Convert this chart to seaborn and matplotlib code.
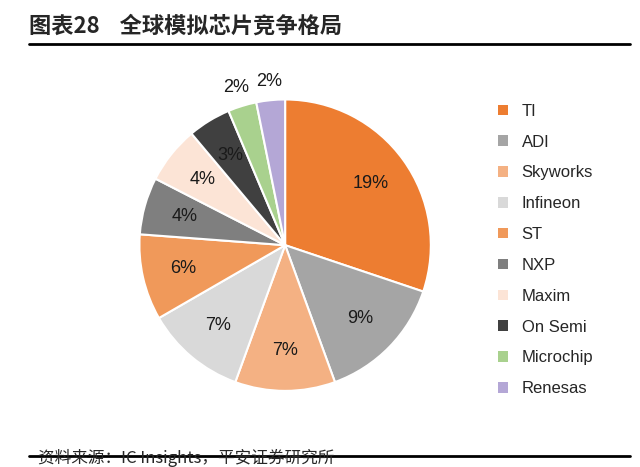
import matplotlib.pyplot as plt
import seaborn as sns
import numpy as np
from matplotlib.patches import Patch

companies = ["TI", "ADI", "Skyworks", "Infineon", "ST", "NXP", "Maxim", "On Semi", "Microchip", "Renesas"]
shares = [19, 9, 7, 7, 6, 4, 4, 3, 2, 2]
colors = ["#ED7D31", "#A5A5A5", "#F4B183", "#D9D9D9", "#F0995A", "#7F7F7F",
          "#FCE4D6", "#404040", "#A9D18E", "#B4A7D6"]

sns.set_theme(style="white")
plt.rcParams['font.family'] = ['Liberation Sans', 'Noto Sans CJK SC', 'DejaVu Sans']

fig = plt.figure(figsize=(6.4, 4.67), dpi=100)
ax = fig.add_axes([0.16, 0.085, 0.571, 0.78])
wedges, _ = ax.pie(shares, colors=colors, startangle=90, counterclock=False,
                   wedgeprops=dict(edgecolor="white", linewidth=1.5))
ax.set_aspect("equal")

for w, v in zip(wedges, shares):
    ang = np.deg2rad((w.theta1 + w.theta2) / 2)
    r = 0.72 if v > 2 else 1.13
    ax.text(r * np.cos(ang), r * np.sin(ang), f"{v}%", ha="center", va="center",
            fontsize=13, color="#1a1a1a")

handles = [Patch(facecolor=c, edgecolor="none") for c in colors]
fig.legend(handles, companies, loc="upper left", bbox_to_anchor=(0.755, 0.81),
           frameon=False, fontsize=12, handlelength=0.6, handleheight=0.6,
           labelspacing=0.95, handletextpad=0.8)

fig.text(0.045, 0.945, "图表28    全球模拟芯片竞争格局", fontsize=16, fontweight="bold", va="center",
         family=['Noto Sans CJK SC', 'DejaVu Sans'])
fig.add_artist(plt.Line2D([0.045, 0.985], [0.905, 0.905], color="black", lw=2))
fig.add_artist(plt.Line2D([0.045, 0.985], [0.024, 0.024], color="black", lw=2))
fig.text(0.06, 0.0, "资料来源：IC Insights，平安证券研究所", fontsize=12, style="italic", va="bottom",
         family=['Noto Sans CJK SC', 'DejaVu Sans'])

fig.savefig("out.png", dpi=100)
